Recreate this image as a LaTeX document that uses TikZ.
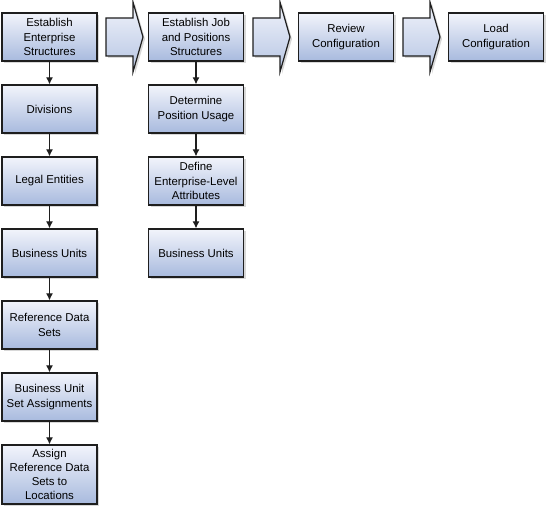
\documentclass[tikz,border=0pt]{standalone}
\usepackage{fontspec}
\setmainfont{Liberation Sans}
\definecolor{boxtop}{RGB}{242,244,251}
\definecolor{boxbottom}{RGB}{168,186,222}
\definecolor{boxline}{RGB}{30,30,30}
\usetikzlibrary{arrows.meta,shadows,calc}
\tikzstyle{stepbox} = [draw=boxline, line width=1.2pt, top color=boxtop, bottom color=boxbottom,
  minimum width=95pt, minimum height=48pt, inner sep=1pt, align=center, text=black,
  font=\fontsize{11.4}{14.2}\selectfont,
  drop shadow={shadow xshift=2pt, shadow yshift=-2pt, fill=black!30}]
\tikzstyle{blockarrow} = [draw=boxline, line width=1.2pt, top color=boxtop, bottom color=boxbottom!85,
  drop shadow={shadow xshift=2pt, shadow yshift=-2pt, fill=black!30}]
\tikzstyle{line} = [draw=boxline, line width=1.2pt, -{Latex[length=7pt,width=7pt]}]

\begin{document}
\begin{tikzpicture}[x=1pt,y=-1pt]
          \useasboundingbox (0,0) rectangle (549,510);
          % first column
          \node[stepbox] (est) at (49.5,37) {Establish\\Enterprise\\Structures};
          \node[stepbox] (div) at (49.5,109) {Divisions};
          \node[stepbox] (legal) at (49.5,181) {Legal Entities};
          \node[stepbox] (bu) at (49.5,253) {Business Units};
          \node[stepbox] (refsets) at (49.5,325) {Reference Data\\Sets};
          \node[stepbox] (buset) at (49.5,397) {Business Unit\\Set Assignments};
          \node[stepbox,minimum height=59pt] (assign) at (49.5,474.5) {Assign\\Reference Data\\Sets to\\Locations};
          % second column
          \node[stepbox] (job) at (196,37) {Establish Job\\and Positions\\Structures};
          \node[stepbox] (usage) at (196,109) {Determine\\Position Usage};
          \node[stepbox] (attr) at (196,181) {Define\\Enterprise-Level\\Attributes};
          \node[stepbox] (bu2) at (196,253) {Business Units};
          % top row
          \node[stepbox] (review) at (346,37) {Review\\Configuration};
          \node[stepbox] (load) at (496,37) {Load\\Configuration};
          % block arrows between phases
          \foreach \x in {106,253,403}
            \draw[blockarrow] (\x,18) -- (\x+27,18) -- (\x+27,2) -- (\x+37,37) -- (\x+27,72) -- (\x+27,56) -- (\x,56) -- cycle;
          % connectors
          \draw[line] (est) -- (div);
          \draw[line] (div) -- (legal);
          \draw[line] (legal) -- (bu);
          \draw[line] (bu) -- (refsets);
          \draw[line] (refsets) -- (buset);
          \draw[line] (buset) -- (assign);
          \draw[line] (job) -- (usage);
          \draw[line] (usage) -- (attr);
          \draw[line] (attr) -- (bu2);
        \end{tikzpicture}
\end{document}
